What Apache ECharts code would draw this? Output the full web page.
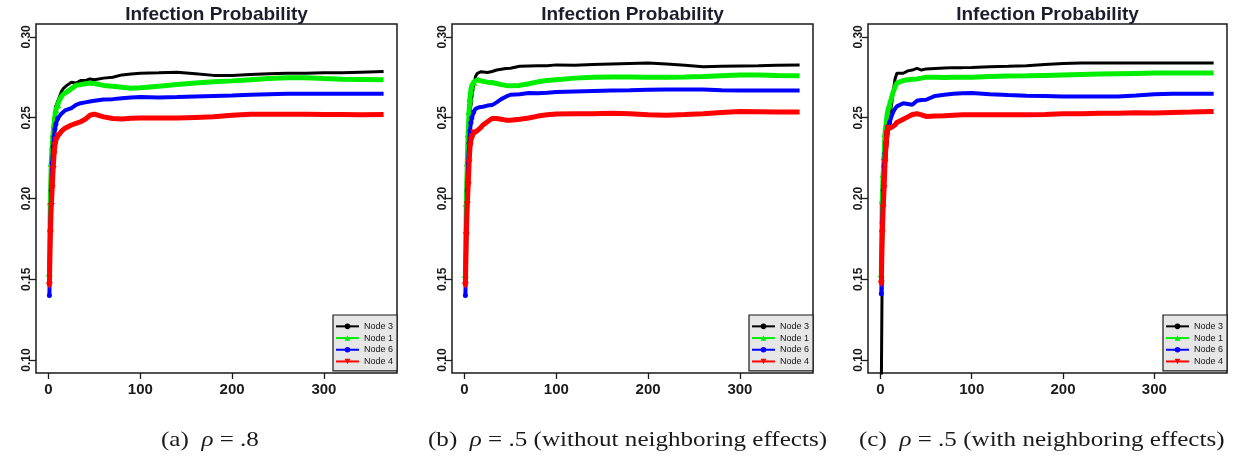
<!DOCTYPE html>
<html><head><meta charset="utf-8">
<script src="https://cdn.jsdelivr.net/npm/echarts@6/dist/echarts.min.js"></script>
<style>html,body{margin:0;padding:0;background:#fff}#c{width:1236px;height:456px}</style>
</head><body><div id="c"></div>
<script>
// ---------- data ----------
const days = [1,2,3,4,5,6,7,8,10,12,14,16,18,20,25,30,35,40,45,50,60,70,80,90,100,120,140,160,180,200,220,240,260,280,300,320,340,365];
const seriesNames = ['Node 3','Node 1','Node 6','Node 4'];
const xTicks = [0,100,200,300];
const yTicks = [0.10,0.15,0.20,0.25,0.30];
const panelTitle = 'Infection Probability';
const captionLabels = ['(a)','(b)','(c)'];
const captionRho = ['.8','.5','.5'];
const captionNotes = ['','(without neighboring effects)','(with neighboring effects)'];

// panel (a) rho = .8
const a_node3 = [0.147,0.190,0.215,0.230,0.240,0.246,0.252,0.257,0.260,0.263,0.266,0.268,0.269,0.270,0.272,0.2715,0.273,0.273,0.274,0.2735,0.2745,0.275,0.2765,0.277,0.2775,0.2778,0.2782,0.2772,0.2762,0.2762,0.2768,0.2772,0.2775,0.2775,0.2778,0.2778,0.2782,0.2786];
const a_node1 = [0.154,0.198,0.222,0.232,0.240,0.246,0.251,0.255,0.258,0.261,0.263,0.2645,0.265,0.266,0.268,0.270,0.2705,0.271,0.2714,0.2712,0.270,0.2695,0.2688,0.2683,0.2685,0.2695,0.2705,0.2715,0.2722,0.2728,0.2735,0.2742,0.2748,0.2748,0.2742,0.2738,0.2737,0.2735];
const a_node6 = [0.140,0.181,0.205,0.222,0.232,0.238,0.243,0.246,0.2495,0.251,0.2525,0.2535,0.2545,0.255,0.256,0.258,0.259,0.2595,0.260,0.2605,0.2613,0.2615,0.262,0.2625,0.2628,0.2625,0.2628,0.2632,0.2635,0.2638,0.2642,0.2645,0.2648,0.2648,0.2648,0.2648,0.2648,0.2648];
const a_node4 = [0.146,0.178,0.195,0.206,0.218,0.227,0.233,0.236,0.2385,0.240,0.2415,0.2425,0.2435,0.244,0.2455,0.2465,0.2475,0.249,0.2515,0.2522,0.2505,0.2495,0.2492,0.2496,0.2498,0.2498,0.2498,0.2502,0.2506,0.2515,0.2522,0.2522,0.2522,0.2522,0.252,0.252,0.2518,0.252];

// panel (b) rho = .5 without neighboring effects
const b_node3 = [0.147,0.190,0.215,0.232,0.243,0.252,0.258,0.263,0.270,0.2755,0.2775,0.2785,0.2785,0.2783,0.278,0.2786,0.2795,0.280,0.2805,0.2806,0.2818,0.282,0.2822,0.2822,0.2827,0.2825,0.283,0.2833,0.2836,0.2838,0.2833,0.2825,0.2815,0.2818,0.282,0.2822,0.2825,0.2827];
const b_node1 = [0.153,0.197,0.222,0.240,0.254,0.262,0.267,0.270,0.272,0.273,0.2735,0.273,0.2728,0.2725,0.272,0.2718,0.2712,0.2705,0.270,0.2698,0.270,0.271,0.2722,0.273,0.2735,0.2745,0.275,0.2752,0.2752,0.2751,0.275,0.2752,0.2755,0.276,0.2764,0.2765,0.2762,0.2759];
const b_node6 = [0.140,0.181,0.205,0.222,0.234,0.242,0.247,0.250,0.2535,0.2555,0.2565,0.2565,0.2565,0.2568,0.2575,0.2578,0.2595,0.2615,0.263,0.2642,0.2645,0.2653,0.2652,0.2655,0.2659,0.2662,0.2665,0.2668,0.267,0.2673,0.2675,0.2675,0.2675,0.267,0.2668,0.2668,0.2669,0.2669];
const b_node4 = [0.146,0.177,0.196,0.208,0.222,0.232,0.236,0.238,0.2405,0.2415,0.242,0.2425,0.244,0.2455,0.2475,0.2495,0.2495,0.249,0.2485,0.2484,0.249,0.2498,0.251,0.2518,0.2523,0.2525,0.2525,0.2528,0.2525,0.2519,0.2516,0.252,0.2525,0.2532,0.2539,0.2537,0.2535,0.2535];

// panel (c) rho = .5 with neighboring effects
const c_node3 = [0.085,0.160,0.190,0.205,0.215,0.225,0.232,0.238,0.248,0.257,0.266,0.274,0.2775,0.2785,0.2775,0.279,0.2795,0.2805,0.2795,0.2802,0.2805,0.2808,0.281,0.281,0.2811,0.2815,0.2818,0.2822,0.283,0.2836,0.2838,0.2838,0.2838,0.2838,0.2838,0.2838,0.2838,0.2838];
const c_node1 = [0.1535,0.199,0.215,0.226,0.240,0.245,0.250,0.254,0.258,0.262,0.266,0.269,0.2715,0.2725,0.273,0.2735,0.2738,0.274,0.2745,0.2751,0.275,0.2749,0.275,0.275,0.2751,0.2755,0.2758,0.2759,0.2762,0.2765,0.2768,0.277,0.2772,0.2774,0.2776,0.2776,0.2776,0.2776];
const c_node6 = [0.141,0.185,0.205,0.220,0.228,0.235,0.240,0.244,0.247,0.2505,0.2535,0.2555,0.257,0.258,0.259,0.2585,0.258,0.2605,0.261,0.2611,0.2635,0.2642,0.2648,0.2652,0.2653,0.2645,0.264,0.2636,0.2634,0.2632,0.2632,0.2632,0.2632,0.2638,0.2645,0.2648,0.2648,0.2648];
const c_node4 = [0.147,0.178,0.194,0.206,0.222,0.232,0.240,0.2432,0.2435,0.244,0.2445,0.2455,0.247,0.2475,0.249,0.2505,0.252,0.2525,0.2518,0.2508,0.251,0.2512,0.2515,0.2518,0.2519,0.2519,0.2519,0.2519,0.252,0.2525,0.2525,0.2527,0.2528,0.253,0.2529,0.2532,0.2535,0.2539];

const panels = [
  [a_node3, a_node1, a_node6, a_node4],
  [b_node3, b_node1, b_node6, b_node4],
  [c_node3, c_node1, c_node6, c_node4]
];

// ---------- styling ----------
const grids = [
  {left: 36, top: 24, width: 361, height: 349},
  {left: 452, top: 24, width: 361, height: 349},
  {left: 868, top: 24, width: 359, height: 349}
];
const legendPos = [{left: 333, top: 315}, {left: 749, top: 315}, {left: 1163, top: 315}];
const captionX = [161, 428, 859];
const seriesStyle = [
  {color: '#000000', width: 3, symbol: 'circle', size: 3, rotate: 0},
  {color: '#00ee00', width: 5, symbol: 'triangle', size: 7, rotate: 0},
  {color: '#0000ff', width: 4, symbol: 'circle', size: 5, rotate: 0},
  {color: '#ff0000', width: 5, symbol: 'triangle', size: 7, rotate: 180}
];
const sansFont = '"Liberation Sans", Arial, sans-serif';
const serifFont = '"Liberation Serif", "Times New Roman", serif';

const option = {
  animation: false,
  backgroundColor: '#ffffff',
  grid: grids.map(g => Object.assign({show: true, borderColor: '#1a1a1a', borderWidth: 1.5, backgroundColor: 'transparent'}, g)),
  xAxis: grids.map((g, i) => ({
    type: 'value', gridIndex: i, min: -13.6, max: 379.6, position: 'bottom',
    axisLine: {show: false, onZero: false},
    splitLine: {show: false},
    axisTick: {show: true, inside: false, length: 6, customValues: xTicks, lineStyle: {color: '#1a1a1a', width: 1.3}},
    axisLabel: {show: true, customValues: xTicks, margin: 9, fontSize: 15, fontWeight: 'bold', color: '#1a1a1a', fontFamily: sansFont}
  })),
  yAxis: grids.map((g, i) => ({
    type: 'value', gridIndex: i, min: 0.092, max: 0.308, position: 'left',
    axisLine: {show: false, onZero: false},
    splitLine: {show: false},
    axisTick: {show: true, inside: false, length: 6, customValues: yTicks, lineStyle: {color: '#1a1a1a', width: 1.3}},
    axisLabel: {show: true, customValues: yTicks, rotate: 90, margin: 3, fontSize: 12, fontWeight: 'bold', color: '#1a1a1a', fontFamily: sansFont,
      formatter: v => Number(v).toFixed(2)}
  })),
  legend: legendPos.map(p => ({
    left: p.left, top: p.top, orient: 'vertical',
    data: seriesNames,
    itemWidth: 23, itemHeight: 7, itemGap: 1,
    padding: [6, 4, 4, 2],
    backgroundColor: '#e6e6e6', borderColor: '#1a1a1a', borderWidth: 1.2, borderRadius: 0,
    selectedMode: false,
    textStyle: {fontSize: 9, color: '#111', fontFamily: sansFont, lineHeight: 10.7}
  })),
  series: [],
  graphic: []
};

panels.forEach((vals, p) => {
  vals.forEach((arr, s) => {
    const st = seriesStyle[s];
    option.series.push({
      name: seriesNames[s], type: 'line', xAxisIndex: p, yAxisIndex: p,
      data: days.map((d, k) => [d, arr[k]]),
      color: st.color,
      lineStyle: {color: st.color, width: st.width},
      itemStyle: {color: st.color},
      symbol: st.symbol, symbolRotate: st.rotate,
      symbolSize: (v, params) => (params && params.dataIndex < 9 ? st.size : 0),
      showAllSymbol: true,
      clip: true, z: 2 + s
    });
  });
  const g = grids[p];
  option.graphic.push({
    type: 'text', x: g.left + g.width / 2, y: 15,
    style: {text: panelTitle, fontSize: 19, fontWeight: 'bold', fontFamily: sansFont, fill: '#1c1c2c', align: 'center', verticalAlign: 'middle'}
  });
  const note = captionNotes[p] ? ' ' + captionNotes[p] : '';
  option.graphic.push({
    type: 'text', x: captionX[p], y: 440, scaleX: 1.14,
    style: {
      text: captionLabels[p] + '  {i|ρ} = ' + captionRho[p] + note,
      fontSize: 22, fontFamily: serifFont, fill: '#1a1a1a', align: 'left', verticalAlign: 'middle',
      rich: {i: {fontStyle: 'italic', fontSize: 22, fontFamily: serifFont, fill: '#1a1a1a'}}
    }
  });
});

const chart = echarts.init(document.getElementById('c'), null, {renderer: 'canvas'});
chart.setOption(option);
</script>
</body></html>
